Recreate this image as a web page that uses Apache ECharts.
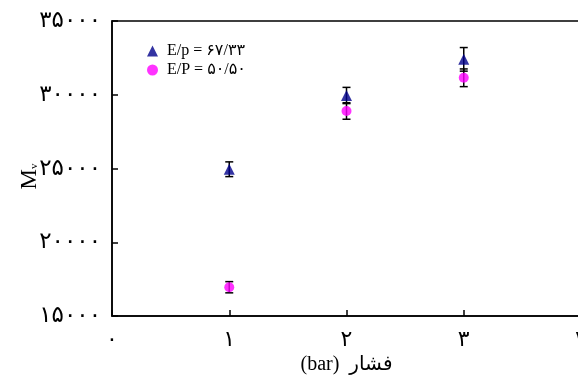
<!DOCTYPE html>
<html>
<head>
<meta charset="utf-8">
<script src="https://cdn.jsdelivr.net/npm/echarts@6/dist/echarts.min.js"></script>
<style>html,body{margin:0;padding:0;background:#fff}#c{width:578px;height:377px}</style>
</head>
<body>
<div id="c"></div>
<script>
// ---- data ----
const pressures = [1, 2, 3];
const seriesNames = ['E/p = ۶۷/۳۳', 'E/P = ۵۰/۵۰'];
const mvA = [24950, 29950, 32400];
const errA = [500, 550, 800];
const mvB = [16950, 28900, 31150];
const errB = [380, 560, 600];
const xTickLabels = ['۰', '۱', '۲', '۳', '۴'];
const yTickValues = [15000, 20000, 25000, 30000, 35000];
const yTickLabels = ['۱۵۰۰۰', '۲۰۰۰۰', '۲۵۰۰۰', '۳۰۰۰۰', '۳۵۰۰۰'];
const xAxisTitle = '(bar)  فشار';

const FONT = "'Liberation Serif', 'DejaVu Sans', serif";

function errData(vals, errs) {
  return pressures.map((p, i) => [p, vals[i] - errs[i], vals[i] + errs[i]]);
}
function errRender(params, api) {
  const x = api.value(0);
  const lo = api.coord([x, api.value(1)]);
  const hi = api.coord([x, api.value(2)]);
  const w = 4;
  const style = { stroke: '#000', lineWidth: 1.5 };
  return {
    type: 'group',
    children: [
      { type: 'line', shape: { x1: lo[0], y1: lo[1], x2: hi[0], y2: hi[1] }, style },
      { type: 'line', shape: { x1: lo[0] - w, y1: lo[1], x2: lo[0] + w, y2: lo[1] }, style },
      { type: 'line', shape: { x1: hi[0] - w, y1: hi[1], x2: hi[0] + w, y2: hi[1] }, style }
    ]
  };
}

const chart = echarts.init(document.getElementById('c'), null, { renderer: 'canvas' });
chart.setOption({
  animation: false,
  backgroundColor: '#fff',
  grid: { left: 112, top: 21, width: 469, height: 295, outerBoundsMode: 'none', containLabel: false,
    show: true, borderColor: '#000', borderWidth: 1.5, backgroundColor: 'transparent' },
  legend: {
    orient: 'vertical', left: 142, top: 38, itemWidth: 11, itemHeight: 11, itemGap: 3,
    textStyle: { fontFamily: FONT, fontSize: 16, color: '#000', padding: [0, 0, 0, 4] },
    data: [{ name: seriesNames[0], icon: 'triangle' }, { name: seriesNames[1], icon: 'circle' }]
  },
  xAxis: {
    type: 'value', min: 0, max: 4, interval: 1,
    name: xAxisTitle, nameLocation: 'middle', nameGap: 39, nameMoveOverlap: false,
    nameTextStyle: { fontFamily: FONT, fontSize: 20, color: '#000' },
    axisLine: { lineStyle: { color: '#000', width: 1.5 } },
    axisTick: { inside: true, length: 6, lineStyle: { color: '#000', width: 1.5 } },
    axisLabel: { margin: 13, fontFamily: FONT, fontSize: 22, color: '#000', showMaxLabel: true,
      formatter: v => xTickLabels[Math.round(v)] },
    splitLine: { show: false }
  },
  yAxis: {
    type: 'value', min: 15000, max: 35000, interval: 5000,
    name: '{m|M}{s|v}', nameLocation: 'middle', nameGap: 71, nameRotate: 90, nameMoveOverlap: false,
    nameTextStyle: { padding: [0, 16, 0, 0], rich: { m: { fontFamily: FONT, fontSize: 23, color: '#000' }, s: { fontFamily: FONT, fontSize: 11, color: '#000', padding: [9, 0, 0, 0] } } },
    axisLine: { lineStyle: { color: '#000', width: 1.5 } },
    axisTick: { inside: true, length: 6, lineStyle: { color: '#000', width: 1.5 } },
    axisLabel: { margin: 11, fontFamily: FONT, fontSize: 23, color: '#000',
      formatter: v => yTickLabels[yTickValues.indexOf(v)] },
    splitLine: { show: false }
  },
  series: [
    { type: 'custom', renderItem: errRender, data: errData(mvA, errA), z: 2, silent: true },
    { type: 'custom', renderItem: errRender, data: errData(mvB, errB), z: 2, silent: true },
    { name: seriesNames[0], type: 'scatter', symbol: 'triangle', symbolSize: 11, z: 5,
      itemStyle: { color: '#00008B' }, data: pressures.map((p, i) => [p, mvA[i]]) },
    { name: seriesNames[1], type: 'scatter', symbol: 'circle', symbolSize: 10, z: 5,
      itemStyle: { color: '#FF00FF' }, data: pressures.map((p, i) => [p, mvB[i]]) }
  ]
});
</script>
</body>
</html>
